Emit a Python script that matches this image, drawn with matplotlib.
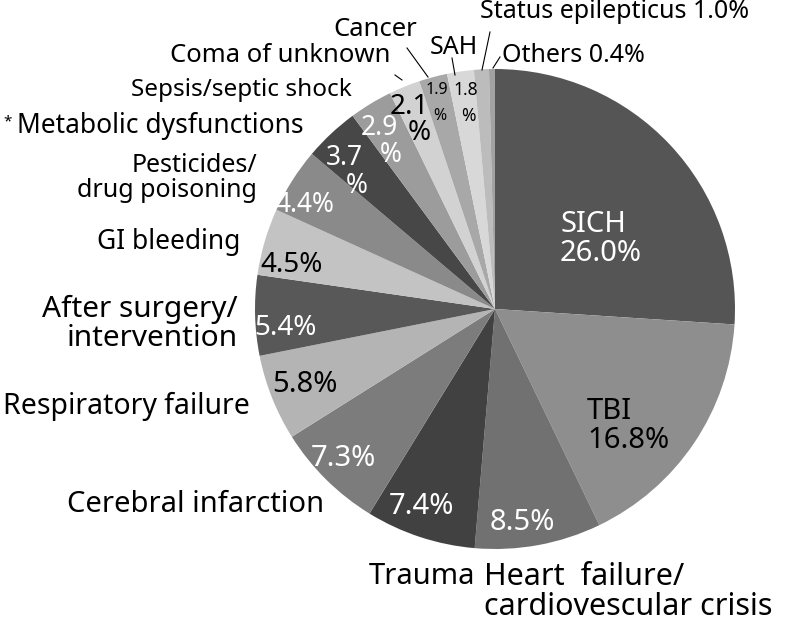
import matplotlib.pyplot as plt

# pie values, clockwise from 12 o'clock
labels = ["SICH", "TBI", "Heart failure/\ncardiovescular crisis", "Trauma",
          "Cerebral infarction", "Respiratory failure",
          "After surgery/\nintervention", "GI bleeding",
          "Pesticides/\ndrug poisoning", "Metabolic dysfunctions",
          "Sepsis/septic shock", "Coma of unknown", "Cancer", "SAH",
          "Status epilepticus", "Others"]
shares = [26.0, 16.8, 8.5, 7.4, 7.3, 5.8, 5.4, 4.5, 4.4, 3.7, 2.9, 2.1, 1.9,
          1.8, 1.0, 0.4]
colors = ["#555555", "#8e8e8e", "#717171", "#414141", "#7c7c7c", "#b4b4b4",
          "#585858", "#c3c3c3", "#8a8a8a", "#474747", "#9c9c9c", "#d2d2d2",
          "#a8a8a8", "#d8d8d8", "#bcbcbc", "#a2a2a2"]

H = 623
plt.rcParams["font.family"] = ["Noto Sans", "DejaVu Sans"]

fig = plt.figure(figsize=(7.87, 6.23), dpi=100)
ax = fig.add_axes([0, 0, 1, 1])

ax.pie(shares, colors=colors, startangle=90, counterclock=False,
       center=(495, H - 309), radius=240, frame=True,
       wedgeprops=dict(linewidth=0))
ax.set_xlim(0, 787)
ax.set_ylim(0, H)
ax.axis("off")


def t(x, y, s, size=16, color="black", ha="center", va="center"):
    ax.text(x, H - y, s, fontsize=size, color=color, ha=ha, va=va,
            linespacing=1.0)


# percentages inside the pie
t(560, 239, "SICH\n26.0%", 21, "white", ha="left")
t(587, 426, "TBI\n16.8%", 21, ha="left")
t(522, 523, "8.5%", 21, "white")
t(421, 507, "7.4%", 21, "white")
t(343, 458, "7.3%", 21, "white")
t(305, 384, "5.8%", 21)
t(286, 328, "5.4%", 20, "white")
t(292, 265, "4.5%", 20)
t(305, 205, "4.4%", 19, "white")
t(344, 158, "3.7", 19, "white")
t(357, 186, "%", 19, "white")
t(379, 128, "2.9", 19, "white")
t(391, 155, "%", 19, "white")
t(409, 107, "2.1", 20)
t(419, 133, "%", 20)
t(437, 90, "1.9", 11.5)
t(440, 116, "%", 11.5)
t(466, 90, "1.8", 12.5)
t(468, 116, "%", 12.5)

# outside labels
t(480, 12, "Status epilepticus 1.0%", 18, ha="left")
t(502, 56, "Others 0.4%", 18, ha="left")
t(454, 48, "SAH", 18)
t(375, 29, "Cancer", 18.5)
t(280, 55, "Coma of unknown", 18.5)
t(352, 90, "Sepsis/septic shock", 17.5, ha="right")
t(304, 126, "Metabolic dysfunctions", 19, ha="right")
t(3, 122, "*", 11, ha="left")
t(257, 178, "Pesticides/\ndrug poisoning", 18, ha="right")
t(240, 242, "GI bleeding", 19, ha="right")
t(238, 324, "After surgery/\nintervention", 21.5, ha="right")
t(3, 406, "Respiratory failure", 20.5, ha="left")
t(67, 505, "Cerebral infarction", 21, ha="left")
t(369, 577, "Trauma", 21, ha="left")
t(484, 592, "Heart  failure/\ncardiovescular crisis", 22, ha="left")

# leader lines
for (x0, y0, x1, y1) in [(395, 75, 402, 80), (407, 48, 428, 77),
                         (452, 58, 455, 75), (490, 32, 482, 70),
                         (500, 57, 493, 68)]:
    ax.plot([x0, x1], [H - y0, H - y1], color="black", lw=0.8)

fig.savefig("out.png", dpi=100)
